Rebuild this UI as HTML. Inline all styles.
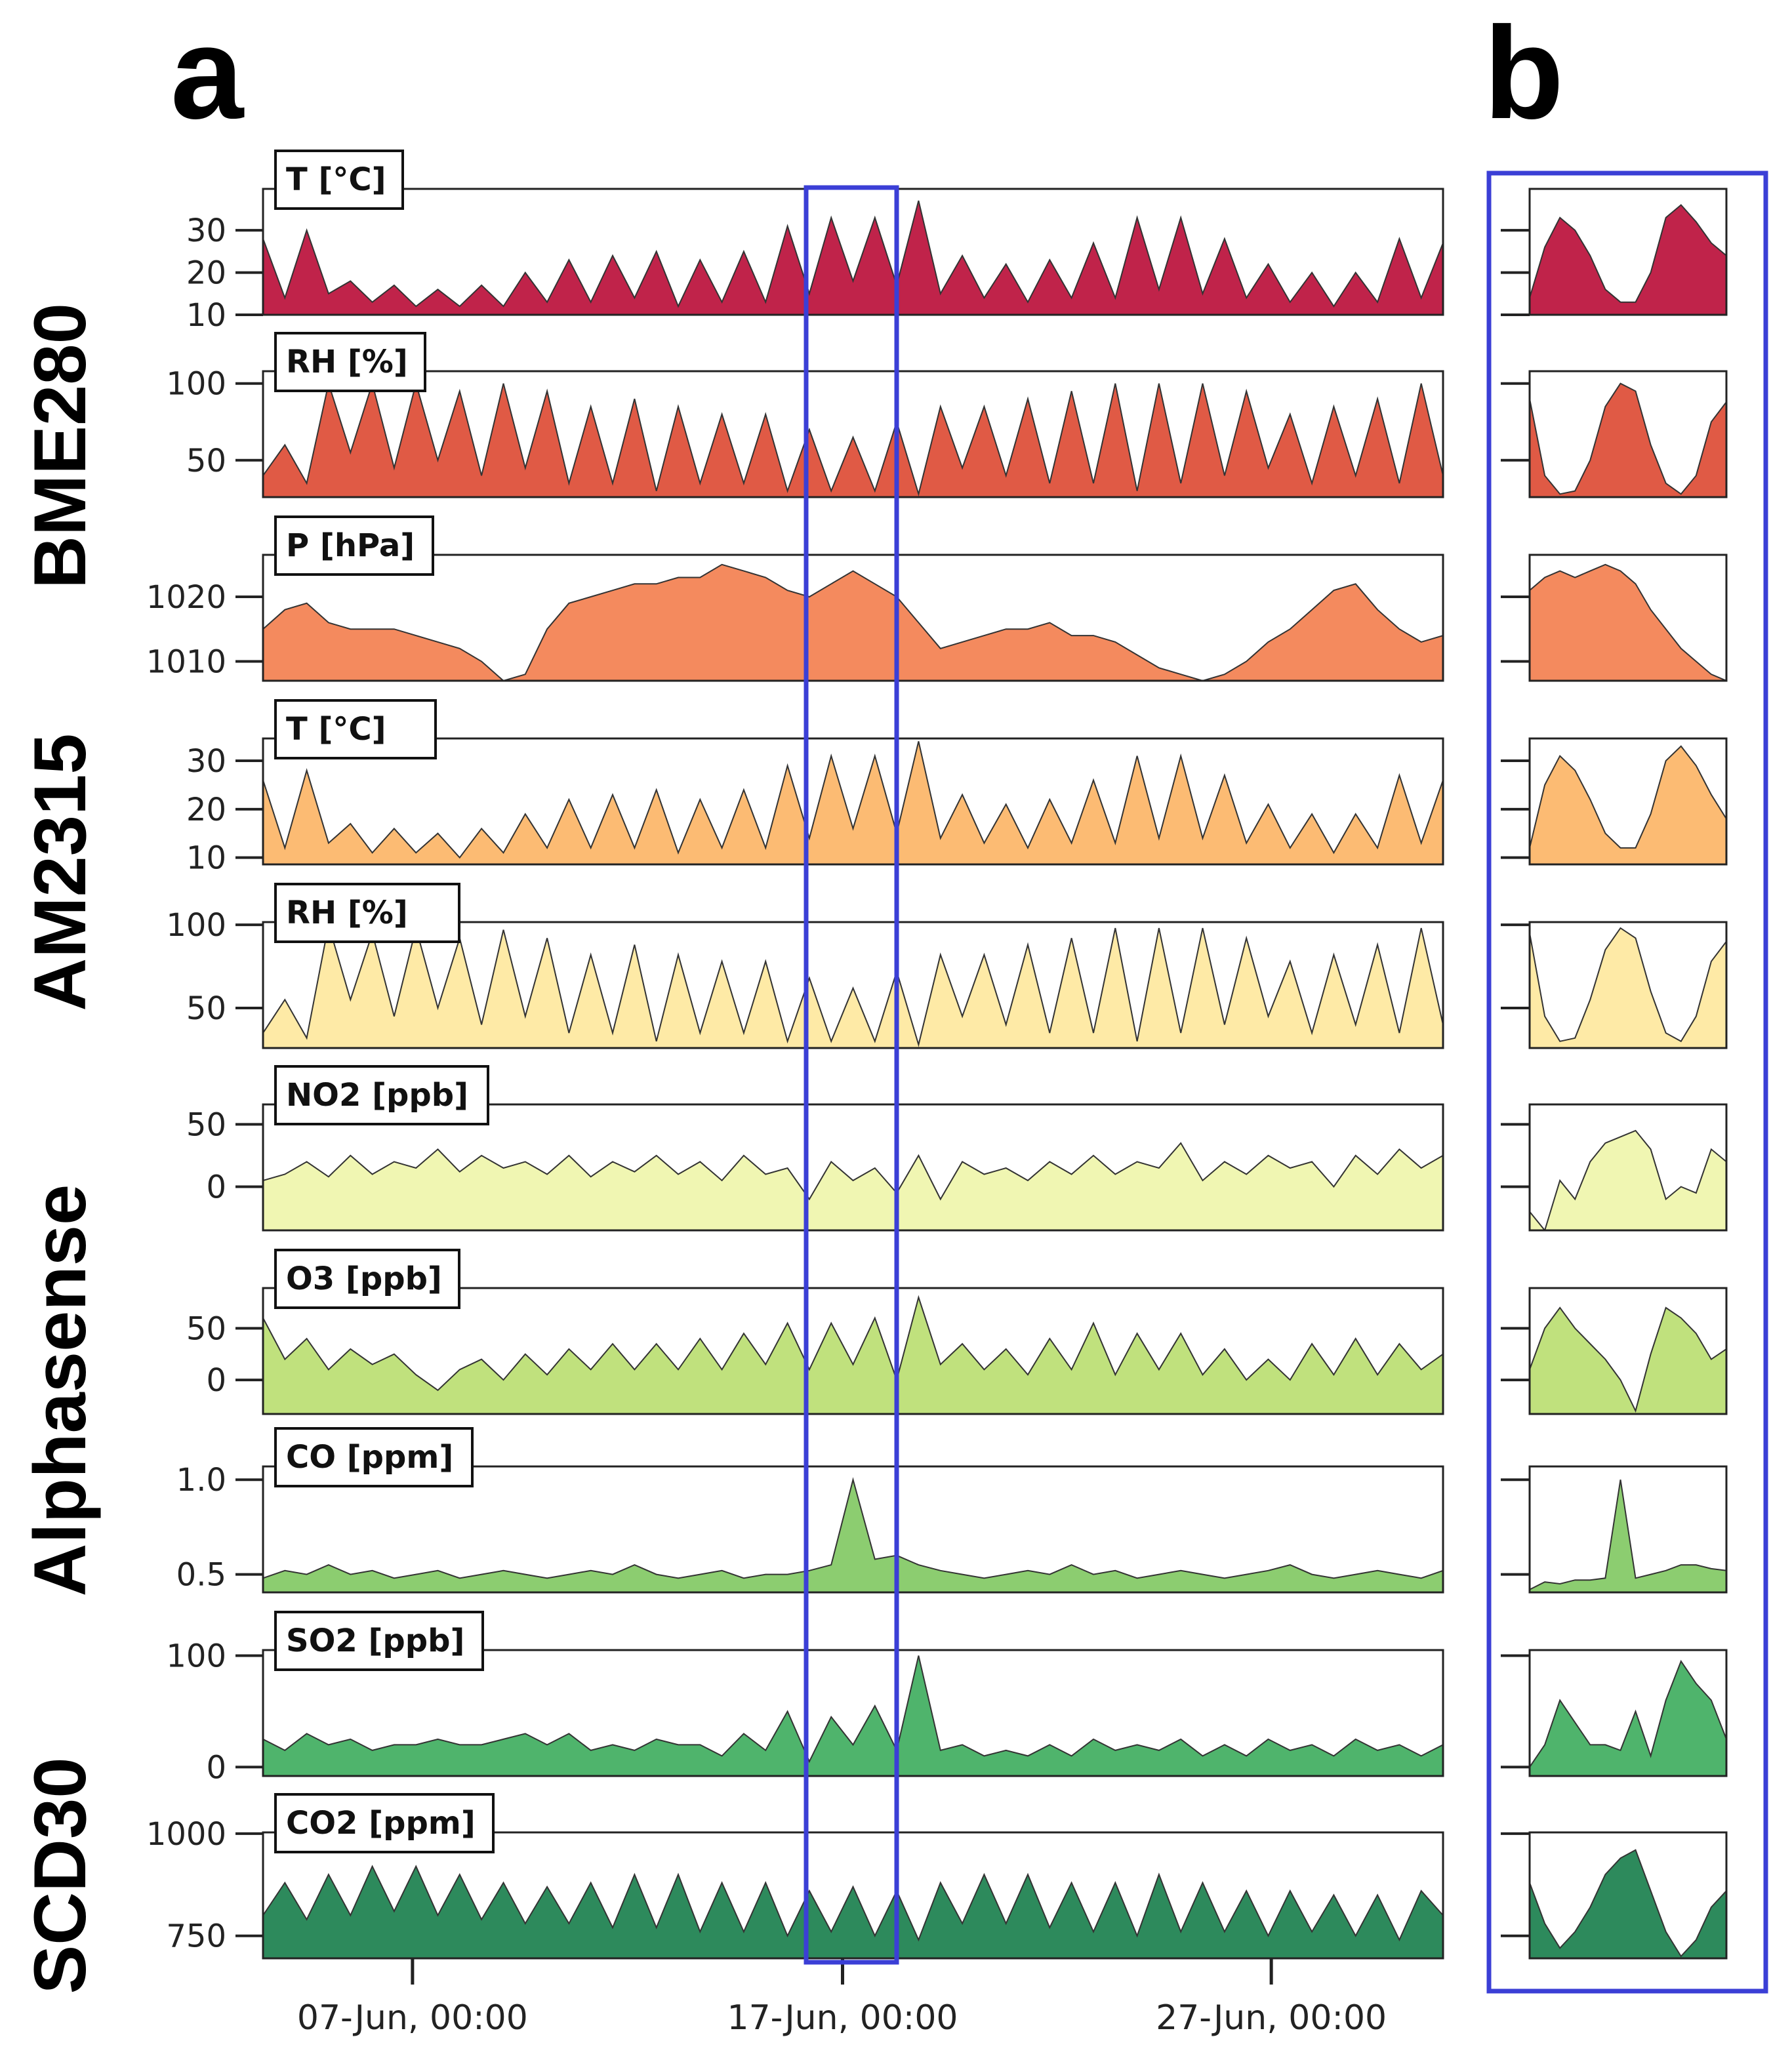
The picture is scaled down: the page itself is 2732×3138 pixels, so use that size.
<!DOCTYPE html>
<html><head><meta charset="utf-8"><style>
html,body{margin:0;padding:0;background:#fff;}
svg{display:block;font-family:"Liberation Sans","DejaVu Sans",sans-serif;}
.dv{font-family:"DejaVu Sans","Liberation Sans",sans-serif;}
</style></head><body>
<svg id="fig" width="2732" height="3138" viewBox="0 0 2732 3138" xmlns="http://www.w3.org/2000/svg"></svg>
<script>
// ---- data (12h steps from ~03-Jun 12:00) ----
const tickDays = [3.42, 13.26, 23.07];
const tickLabels = ["07-Jun, 00:00", "17-Jun, 00:00", "27-Jun, 00:00"];
const bmeT = [28,14,30,15,18,13,17,12,16,12,17,12,20,13,23,13,24,14,25,12,23,13,25,13,31,15,33,18,33,17,37,15,24,14,22,13,23,14,27,14,33,16,33,15,28,14,22,13,20,12,20,13,28,14,27];
const bmeRH = [40,60,35,100,55,100,45,100,50,95,40,100,45,95,35,85,35,90,30,85,35,80,35,80,30,70,30,65,30,75,28,85,45,85,40,90,35,95,35,100,30,100,35,100,40,95,45,80,35,85,40,90,35,100,40];
const bmeP = [1015,1018,1019,1016,1015,1015,1015,1014,1013,1012,1010,1007,1008,1015,1019,1020,1021,1022,1022,1023,1023,1025,1024,1023,1021,1020,1022,1024,1022,1020,1016,1012,1013,1014,1015,1015,1016,1014,1014,1013,1011,1009,1008,1007,1008,1010,1013,1015,1018,1021,1022,1018,1015,1013,1014];
const amT = [26,12,28,13,17,11,16,11,15,10,16,11,19,12,22,12,23,12,24,11,22,12,24,12,29,14,31,16,31,15,34,14,23,13,21,12,22,13,26,13,31,14,31,14,27,13,21,12,19,11,19,12,27,13,26];
const amRH = [35,55,32,100,55,95,45,98,50,92,40,97,45,92,35,82,35,88,30,82,35,78,35,78,30,68,30,62,30,72,28,82,45,82,40,88,35,92,35,98,30,98,35,98,40,92,45,78,35,82,40,88,35,98,40];
const no2 = [5,10,20,8,25,10,20,15,30,12,25,15,20,10,25,8,20,12,25,10,20,5,25,10,15,-10,20,5,15,-5,25,-10,20,10,15,5,20,10,25,10,20,15,35,5,20,10,25,15,20,0,25,10,30,15,25];
const o3 = [60,20,40,10,30,15,25,5,-10,10,20,0,25,5,30,10,35,10,35,10,40,10,45,15,55,10,55,15,60,0,80,15,35,10,30,5,40,10,55,5,45,10,45,5,30,0,20,0,35,5,40,5,35,10,25];
const co = [0.48,0.52,0.5,0.55,0.5,0.52,0.48,0.5,0.52,0.48,0.5,0.52,0.5,0.48,0.5,0.52,0.5,0.55,0.5,0.48,0.5,0.52,0.48,0.5,0.5,0.52,0.55,1.0,0.58,0.6,0.55,0.52,0.5,0.48,0.5,0.52,0.5,0.55,0.5,0.52,0.48,0.5,0.52,0.5,0.48,0.5,0.52,0.55,0.5,0.48,0.5,0.52,0.5,0.48,0.52];
const so2 = [25,15,30,20,25,15,20,20,25,20,20,25,30,20,30,15,20,15,25,20,20,10,30,15,50,5,45,20,55,15,100,15,20,10,15,10,20,10,25,15,20,15,25,10,20,10,25,15,20,10,25,15,20,10,20];
const co2 = [800,880,790,900,800,920,810,920,800,900,790,880,780,870,780,880,770,900,770,900,760,880,760,880,750,860,760,870,750,860,740,880,780,900,780,900,770,880,760,880,750,900,760,880,760,860,750,860,760,850,750,850,740,860,800];
// zoom window (panel b), 14 evenly spaced samples
const zT = [14,26,33,30,24,16,13,13,20,33,36,32,27,24];
const zRH = [90,40,28,30,50,85,100,95,60,35,28,40,75,88];
const zP = [1021,1023,1024,1023,1024,1025,1024,1022,1018,1015,1012,1010,1008,1007];
const zAmT = [12,25,31,28,22,15,12,12,19,30,33,29,23,18];
const zAmRH = [95,45,30,32,55,85,98,92,60,35,30,45,78,90];
const zNO2 = [-20,-35,5,-10,20,35,40,45,30,-10,0,-5,30,20];
const zO3 = [10,50,70,50,35,20,0,-30,25,70,60,45,20,30];
const zCO = [0.42,0.46,0.45,0.47,0.47,0.48,1.0,0.48,0.5,0.52,0.55,0.55,0.53,0.52];
const zSO2 = [0,20,60,40,20,20,15,50,10,60,95,75,60,25];
const zCO2 = [880,780,720,760,820,900,940,960,860,760,700,740,820,860];

const panels = [
 {name:"bme280-temperature",title:"T [°C]",a:bmeT,b:zT,lo:10,hi:39.8,ticks:[10,20,30],dec:0,color:"#c0234a",boxW:194},
 {name:"bme280-humidity",title:"RH [%]",a:bmeRH,b:zRH,lo:26,hi:108,ticks:[50,100],dec:0,color:"#e05a45",boxW:228},
 {name:"bme280-pressure",title:"P [hPa]",a:bmeP,b:zP,lo:1007,hi:1026.5,ticks:[1010,1020],dec:0,color:"#f48a5e",boxW:240},
 {name:"am2315-temperature",title:"T [°C]",a:amT,b:zAmT,lo:8.6,hi:34.6,ticks:[10,20,30],dec:0,color:"#fcbb73",boxW:244},
 {name:"am2315-humidity",title:"RH [%]",a:amRH,b:zAmRH,lo:26,hi:101.6,ticks:[50,100],dec:0,color:"#feeaa6",boxW:280},
 {name:"no2",title:"NO2 [ppb]",a:no2,b:zNO2,lo:-35,hi:66,ticks:[0,50],dec:0,color:"#f0f6b2",boxW:324},
 {name:"o3",title:"O3 [ppb]",a:o3,b:zO3,lo:-33,hi:89,ticks:[0,50],dec:0,color:"#c0e17d",boxW:280},
 {name:"co",title:"CO [ppm]",a:co,b:zCO,lo:0.405,hi:1.07,ticks:[0.5,1.0],dec:1,color:"#8ccd70",boxW:300},
 {name:"so2",title:"SO2 [ppb]",a:so2,b:zSO2,lo:-8,hi:105,ticks:[0,100],dec:0,color:"#4fb46c",boxW:316},
 {name:"co2",title:"CO2 [ppm]",a:co2,b:zCO2,lo:695,hi:1003,ticks:[750,1000],dec:0,color:"#2d8a5c",boxW:332}
];
const tops = [288,566,846,1126,1406,1684,1964,2236,2516,2794];
const PH = 192, AX0 = 401, AX1 = 2200, BX0 = 2332, BX1 = 2632, XMAX = 27;

const NS = "http://www.w3.org/2000/svg";
const svg = document.getElementById("fig");
function mk(tag, attrs, parent){
  const e = document.createElementNS(NS, tag);
  for (const k in attrs) e.setAttribute(k, attrs[k]);
  (parent||svg).appendChild(e);
  return e;
}
function area(vals, x0, x1, top, p, g, nm){
  const y = v => top + PH - (v - p.lo) / (p.hi - p.lo) * PH;
  const n = vals.length;
  const xs = i => x0 + i / (n - 1) * (x1 - x0);
  let line = "";
  vals.forEach((v,i)=>{ line += (i? "L":"M") + xs(i).toFixed(1) + "," + y(v).toFixed(1); });
  const fill = mk("path", {d: line + "L" + x1 + "," + (top+PH) + "L" + x0 + "," + (top+PH) + "Z", fill: p.color, stroke:"none"}, g);
  
  
  const ln = mk("path", {d: line, fill:"none", stroke:"#333", "stroke-width":2}, g);
  
  
}
panels.forEach((p, k)=>{
  const top = tops[k];
  const y = v => top + PH - (v - p.lo) / (p.hi - p.lo) * PH;
  const g = mk("g", {});
  
  
  const cid = "c" + k;
  const cp = mk("clipPath", {id: cid}, g);
  mk("rect", {x: AX0, y: top, width: AX1-AX0, height: PH}, cp);
  const ga = mk("g", {"clip-path": "url(#" + cid + ")"}, g);
  const xa = d => AX0 + d / XMAX * (AX1 - AX0);
  area(p.a, xa(0), xa((p.a.length-1)*0.5), top, p, ga, p.name);
  const fr = mk("rect", {x: AX0, y: top, width: AX1-AX0, height: PH, fill:"none", stroke:"#222", "stroke-width":3}, g);
  
  
  p.ticks.forEach(t=>{
    const ty = y(t);
    mk("line", {x1: AX0-42, x2: AX0, y1: ty, y2: ty, stroke:"#222", "stroke-width":4}, g);
    const tl = mk("text", {x: AX0-56, y: ty+17, "text-anchor":"end", "font-size":48, fill:"#222", "class":"dv"}, g);
    tl.textContent = t.toFixed(p.dec);
    
    
  });
  const bx = mk("rect", {x: 420, y: top-58, width: p.boxW, height: 88, fill:"#fff", stroke:"#111", "stroke-width":4}, g);
  
  
  const tt = mk("text", {x: 436, y: top+2, "font-size":48, "font-weight":"bold", fill:"#111", "class":"dv"}, g);
  tt.textContent = p.title;
  
  
  const gb = mk("g", {});
  
  
  const cidb = "cb" + k;
  const cpb = mk("clipPath", {id: cidb}, gb);
  mk("rect", {x: BX0, y: top, width: BX1-BX0, height: PH}, cpb);
  const gbb = mk("g", {"clip-path": "url(#" + cidb + ")"}, gb);
  area(p.b, BX0, BX1, top, p, gbb, p.name + '-zoom');
  mk("rect", {x: BX0, y: top, width: BX1-BX0, height: PH, fill:"none", stroke:"#222", "stroke-width":3}, gb);
  p.ticks.forEach(t=>{
    const ty = y(t);
    if (ty >= top && ty <= top+PH) mk("line", {x1: BX0-44, x2: BX0, y1: ty, y2: ty, stroke:"#222", "stroke-width":4}, gb);
  });
});
const xg = mk("g", {});


tickDays.forEach((d,i)=>{
  const x = AX0 + d / XMAX * (AX1 - AX0);
  mk("line", {x1: x, x2: x, y1: 2986, y2: 3026, stroke:"#222", "stroke-width":5}, xg);
  const t = mk("text", {x: x, y: 3094, "text-anchor":"middle", "font-size":52, fill:"#222", "class":"dv"}, xg);
  t.textContent = tickLabels[i];
  
  
});
const h1 = mk("rect", {x: 1229, y: 286, width: 138, height: 2706, fill:"none", stroke:"#3b3fd6", "stroke-width":7});


const h2 = mk("rect", {x: 2270, y: 264, width: 422, height: 2772, fill:"none", stroke:"#3b3fd6", "stroke-width":7});


[["a",260,"panel-label-a"],["b",2262,"panel-label-b"]].forEach(([s,x,n])=>{
  const t = mk("text", {x: x, y: 180, "font-size":200, "font-weight":"bold", fill:"#000"});
  t.textContent = s;
  
  
});
[["BME280",680,"group-label-bme280"],["AM2315",1330,"group-label-am2315"],["Alphasense",2120,"group-label-alphasense"],["SCD30",2860,"group-label-scd30"]].forEach(([s,cy,n])=>{
  const t = mk("text", {x: 0, y: 0, "font-size":112, "font-weight":"bold", fill:"#000", "text-anchor":"middle", transform:"translate(130," + cy + ") rotate(-90)"});
  t.textContent = s;
  
  
});
</script>
</body></html>
